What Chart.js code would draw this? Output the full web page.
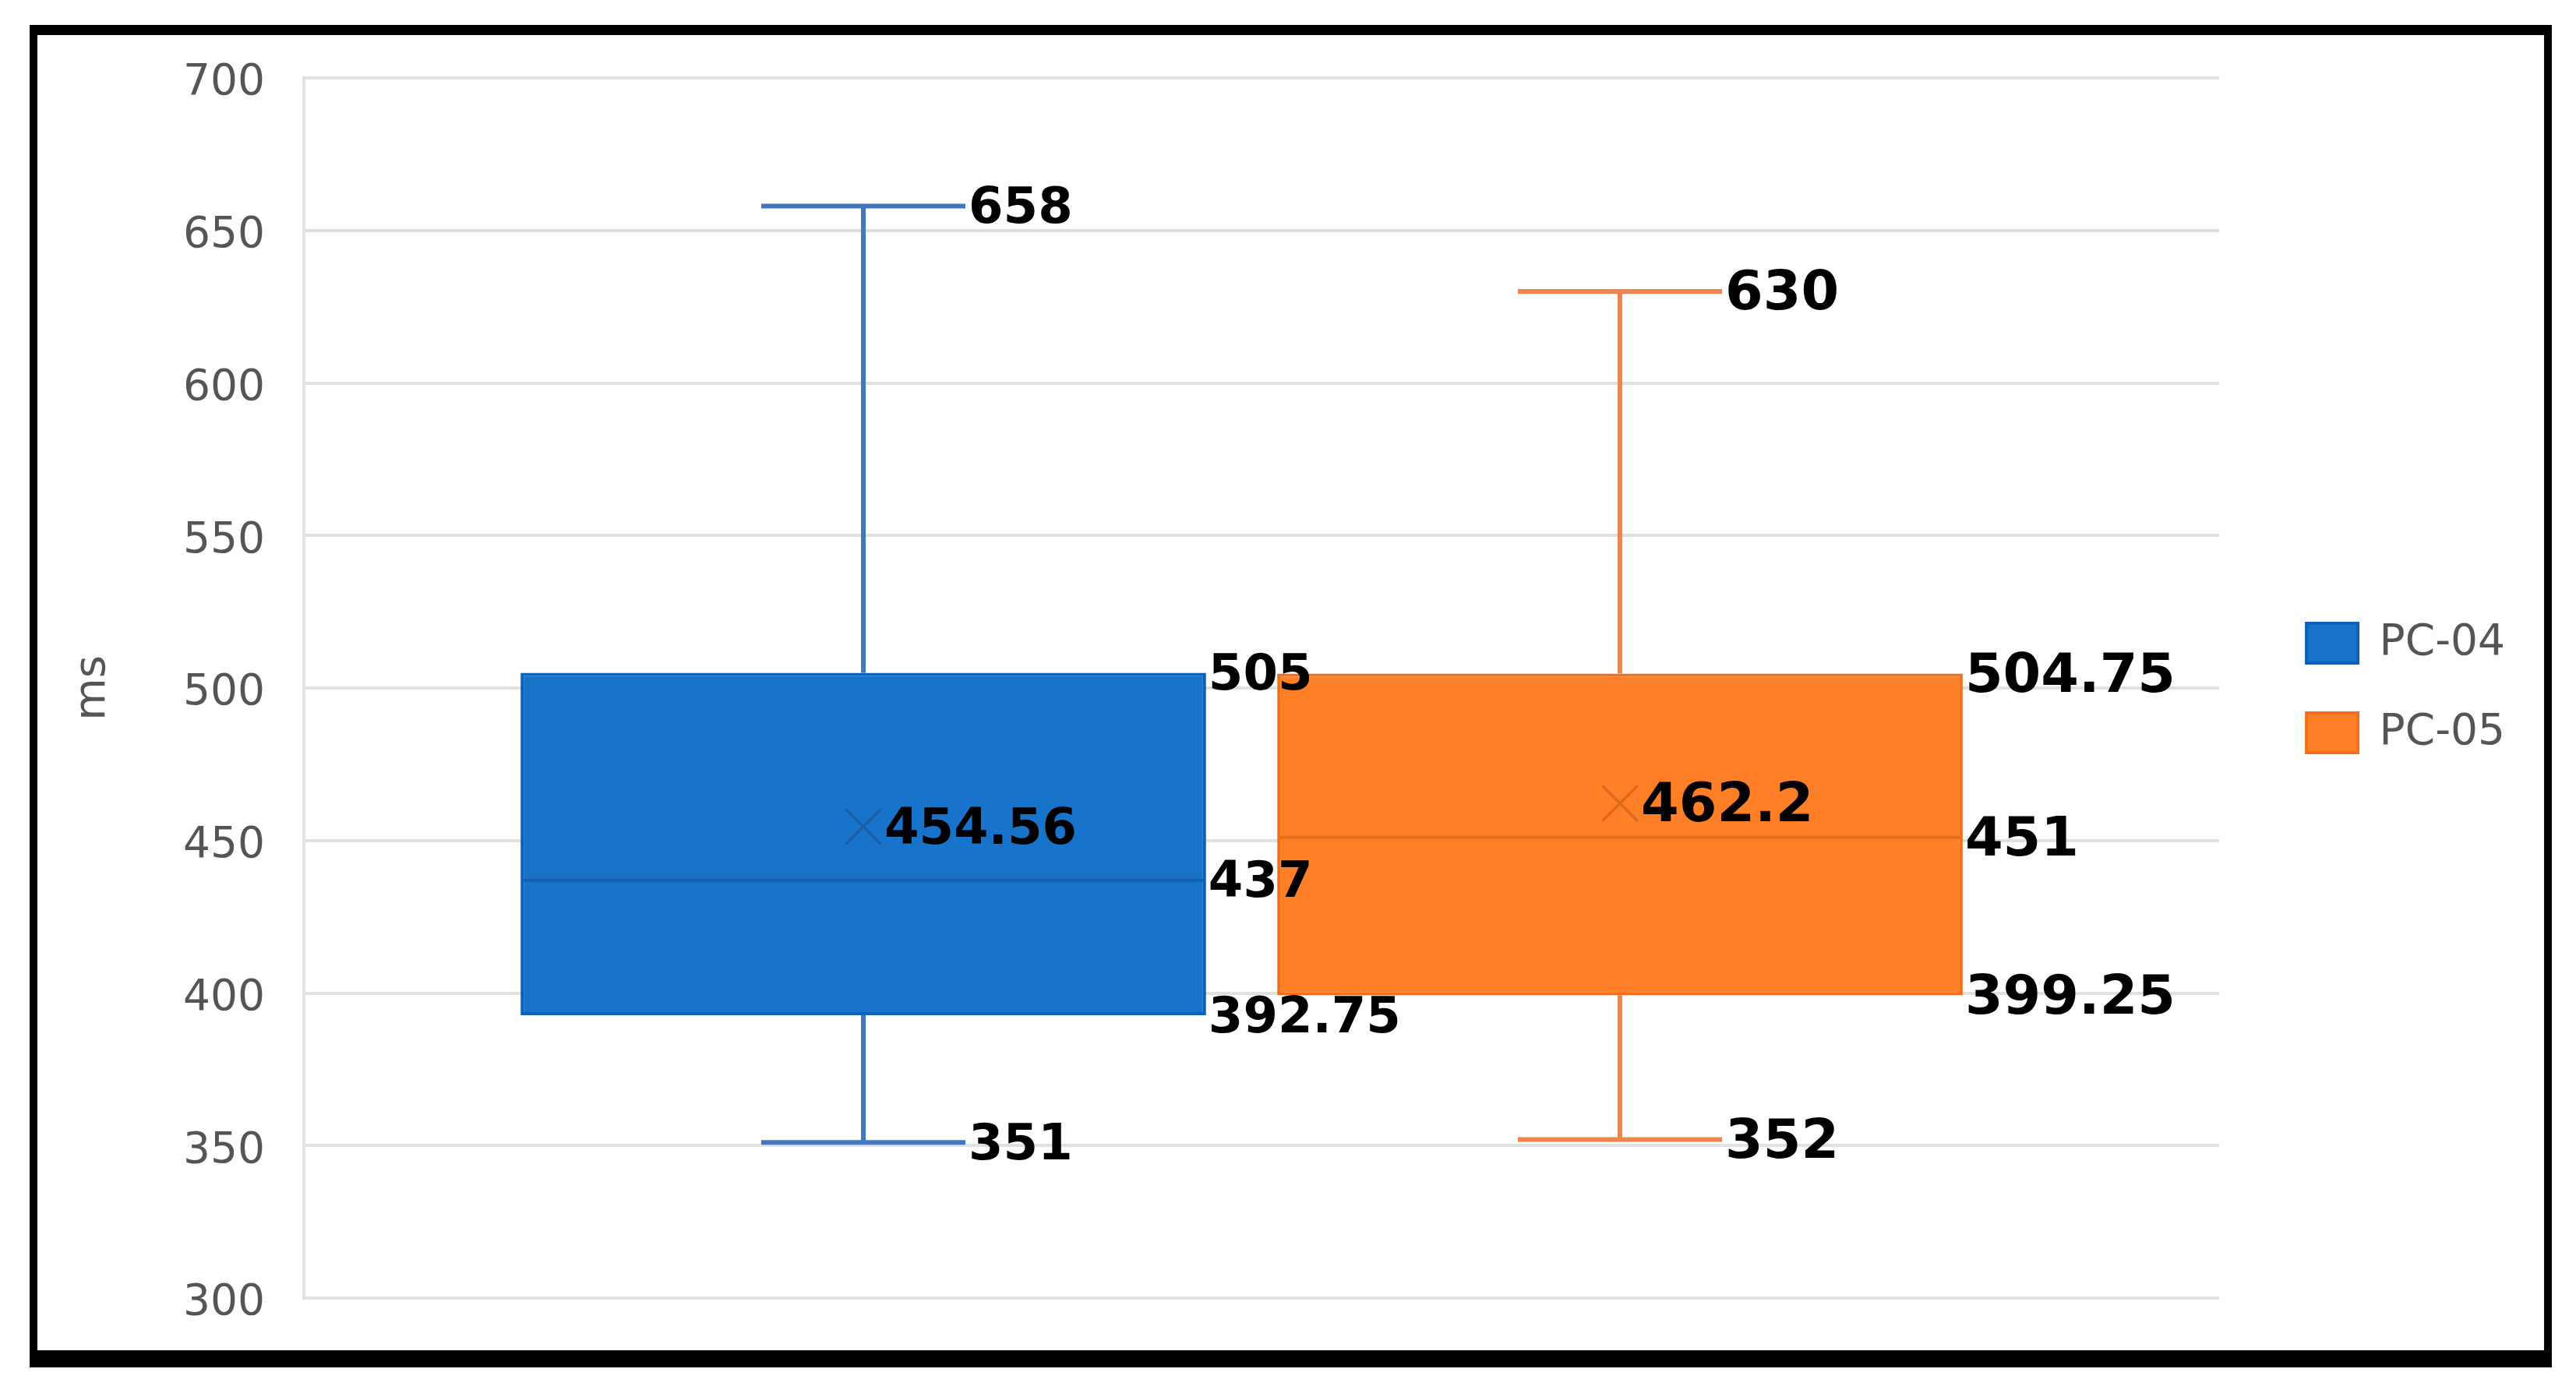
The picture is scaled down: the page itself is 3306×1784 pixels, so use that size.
<!DOCTYPE html>
<html><head><meta charset="utf-8">
<script src="https://cdn.jsdelivr.net/npm/chart.js@4/dist/chart.umd.min.js"></script>
<style>
html,body{margin:0;padding:0;background:#fff;width:3306px;height:1784px;overflow:hidden;}
#frame{position:absolute;left:38px;top:32px;width:3237px;height:1723px;box-sizing:border-box;border-style:solid;border-color:#000;border-width:13px 10px 22px 10px;}
#wrap{position:absolute;left:0;top:0;width:3306px;height:1784px;}
</style></head><body>
<div id="frame"></div>
<div id="wrap"><canvas id="c" width="3306" height="1784"></canvas></div>
<script>
// ---- data ----
const categories = ['PC-04', 'PC-05'];
const minValues = [351, 352];
const q1Values = [392.75, 399.25];
const medianValues = [437, 451];
const q3Values = [505, 504.75];
const maxValues = [658, 630];
const meanValues = [454.56, 462.2];
const yTickValues = [300, 350, 400, 450, 500, 550, 600, 650, 700];
const yAxisTitle = 'ms';

// ---- styles ----
const fillColors = ['#1874CB', '#FF7F27'];
const edgeColors = ['#0F60B6', '#F2701C'];
const whiskerColors = ['#4276C0', '#F0844A'];
const medianColors = ['#1460AE', '#E46F1E'];
const meanColors = ['#1D5C9E', '#D8691F'];
const labelSizes = [64, 70];
const capRatio = 0.149;

Chart.defaults.font.family = "'DejaVu Sans', sans-serif";

const datasets = categories.map((c, i) => ({
  type: 'bar',
  label: c,
  data: [{ x: i + 1, y: [q1Values[i], q3Values[i]] }],
  backgroundColor: fillColors[i],
  borderColor: edgeColors[i],
  borderWidth: 4,
  borderSkipped: false,
  grouped: false,
  barPercentage: 0.906,
  categoryPercentage: 1,
  order: 2
}));
categories.forEach((c, i) => {
  datasets.push({
    type: 'scatter',
    label: c + ' mean',
    data: [{ x: i + 1, y: meanValues[i] }],
    pointStyle: 'crossRot',
    pointRadius: 32,
    pointHoverRadius: 32,
    pointBorderColor: meanColors[i],
    pointBackgroundColor: meanColors[i],
    pointBorderWidth: 3,
    order: 1
  });
});

const boxExtras = {
  id: 'boxExtras',
  beforeDatasetsDraw(chart) {
    const ctx = chart.ctx, ys = chart.scales.y;
    categories.forEach((c, i) => {
      const bar = chart.getDatasetMeta(i).data[0];
      const cx = bar.x, half = bar.width * capRatio;
      const yMax = ys.getPixelForValue(maxValues[i]);
      const yMin = ys.getPixelForValue(minValues[i]);
      ctx.save();
      ctx.strokeStyle = whiskerColors[i];
      ctx.lineWidth = 6;
      ctx.beginPath();
      ctx.moveTo(cx, yMax); ctx.lineTo(cx, ys.getPixelForValue(q3Values[i]));
      ctx.moveTo(cx, ys.getPixelForValue(q1Values[i])); ctx.lineTo(cx, yMin);
      ctx.moveTo(cx - half, yMax); ctx.lineTo(cx + half, yMax);
      ctx.moveTo(cx - half, yMin); ctx.lineTo(cx + half, yMin);
      ctx.stroke();
      ctx.restore();
    });
  },
  afterDatasetsDraw(chart) {
    const ctx = chart.ctx, ys = chart.scales.y;
    categories.forEach((c, i) => {
      const bar = chart.getDatasetMeta(i).data[0];
      const cx = bar.x, w = bar.width, half = w * capRatio;
      const yMed = ys.getPixelForValue(medianValues[i]);
      ctx.save();
      ctx.strokeStyle = medianColors[i];
      ctx.lineWidth = 4;
      ctx.beginPath();
      ctx.moveTo(cx - w / 2 + 3, yMed); ctx.lineTo(cx + w / 2 - 3, yMed);
      ctx.stroke();
      ctx.fillStyle = '#000';
      ctx.font = 'bold ' + labelSizes[i] + "px 'DejaVu Sans'";
      ctx.textAlign = 'left';
      ctx.textBaseline = 'middle';
      const off = 5;
      const capX = cx + half + 4;
      const boxX = cx + w / 2 + 3;
      ctx.fillText(String(maxValues[i]), capX, ys.getPixelForValue(maxValues[i]) + off);
      ctx.fillText(String(minValues[i]), capX, ys.getPixelForValue(minValues[i]) + off);
      ctx.fillText(String(q3Values[i]), boxX, ys.getPixelForValue(q3Values[i]) + off);
      ctx.fillText(String(medianValues[i]), boxX, yMed + off);
      ctx.fillText(String(q1Values[i]), boxX, ys.getPixelForValue(q1Values[i]) + off);
      ctx.fillText(String(meanValues[i]), cx + 27, ys.getPixelForValue(meanValues[i]) + off);
      ctx.restore();
    });
  }
};

new Chart(document.getElementById('c'), {
  type: 'bar',
  data: { datasets },
  plugins: [boxExtras],
  options: {
    responsive: false,
    devicePixelRatio: 1,
    animation: false,
    layout: { padding: { left: 0, top: 100, right: 81, bottom: 118 } },
    plugins: {
      legend: {
        position: 'right',
        labels: {
          filter: (item) => item.datasetIndex < categories.length,
          font: { size: 55 },
          color: '#555555',
          boxWidth: 66,
          boxHeight: 51,
          padding: 60
        }
      },
      tooltip: { enabled: false }
    },
    scales: {
      x: {
        type: 'linear',
        bounds: 'data',
        min: 0.2606,
        max: 2.792,
        offset: false,
        display: false,
        afterBuildTicks: (s) => { s.ticks = categories.map((c, i) => ({ value: i + 1 })); }
      },
      y: {
        type: 'linear',
        position: 'left',
        min: 300,
        max: 700,
        afterBuildTicks: (s) => { s.ticks = yTickValues.map(v => ({ value: v })); },
        ticks: { font: { size: 55 }, color: '#555555', padding: 0, labelOffset: 7 },
        grid: { color: '#e0e0e0', lineWidth: 4, drawTicks: true, tickLength: 50, tickColor: 'rgba(0,0,0,0)' },
        border: { display: true, color: '#e0e0e0', width: 4 },
        title: { display: true, text: yAxisTitle, font: { size: 56 }, color: '#555555', padding: { top: 86, bottom: 0 } },
        afterFit: (s) => { s.width = 390; }
      },
      yRight: {
        type: 'linear',
        position: 'right',
        display: true,
        grid: { display: false, drawTicks: false },
        border: { display: false },
        ticks: { display: false },
        afterFit: (s) => { s.width = 52; }
      }
    }
  }
});
</script>
</body></html>
